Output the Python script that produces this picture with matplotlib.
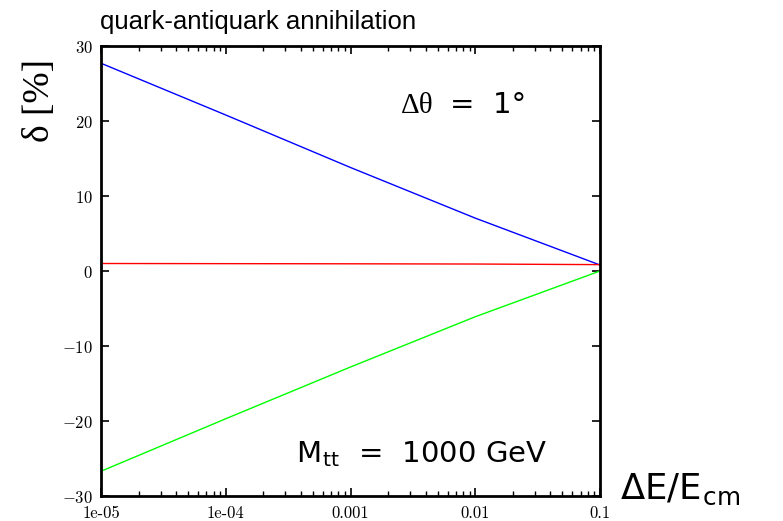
import matplotlib
matplotlib.use("Agg")
import matplotlib.pyplot as plt
from matplotlib.ticker import FixedLocator, FixedFormatter, LogLocator, NullFormatter

plt.rcParams['mathtext.fontset'] = 'cm'

x_vals = [1e-5, 1e-4, 1e-3, 1e-2, 1e-1]
blue_vals = [27.7, 20.8, 13.8, 7.05, 0.8]
red_vals = [1.0, 0.98, 0.96, 0.93, 0.85]
green_vals = [-26.7, -19.7, -12.8, -6.1, 0.0]

x_ticks = [1e-5, 1e-4, 1e-3, 1e-2, 1e-1]
x_ticklabels = ['1e-05', '1e-04', '0.001', '0.01', '0.1']
y_ticks = [-30, -20, -10, 0, 10, 20, 30]
y_ticklabels = [r'$-30$', r'$-20$', r'$-10$', r'$0$', r'$10$', r'$20$', r'$30$']

W, H = 783, 521
fig = plt.figure(figsize=(W/100, H/100), dpi=100)
ax = fig.add_axes([101/W, 1-496/H, (600-101)/W, (496-46)/H])

ax.plot(x_vals, blue_vals, color='#0000ff', lw=1.0)
ax.plot(x_vals, red_vals, color='#ff0000', lw=1.0)
ax.plot(x_vals, green_vals, color='#00ff00', lw=1.0)

ax.set_xscale('log')
ax.set_xlim(1e-5, 0.1)
ax.set_ylim(-30, 30)

ax.xaxis.set_major_locator(FixedLocator(x_ticks))
ax.xaxis.set_major_formatter(FixedFormatter(x_ticklabels))
ax.xaxis.set_minor_locator(LogLocator(base=10, subs=range(2, 10)))
ax.xaxis.set_minor_formatter(NullFormatter())
ax.yaxis.set_major_locator(FixedLocator(y_ticks))
ax.yaxis.set_major_formatter(FixedFormatter(y_ticklabels))

for lab in ax.get_xticklabels():
    lab.set_fontfamily('cmr10')
    lab.set_fontsize(12)
for lab in ax.get_yticklabels():
    lab.set_fontsize(12)

ax.tick_params(which='major', direction='in', length=6, width=1.2,
               top=True, right=True)
ax.tick_params(axis='x', which='major', pad=7)
ax.tick_params(axis='y', which='major', pad=6)
ax.tick_params(which='minor', direction='in', length=3.5, width=1.0,
               top=True, right=True)
for s in ax.spines.values():
    s.set_linewidth(2)

def fx(px):
    return px / W

def fy(py):
    return 1 - py / H

fig.text(fx(100), fy(29), 'quark-antiquark annihilation', fontsize=18.5,
         family='Liberation Sans', ha='left', va='baseline')
fig.text(fx(401), fy(113), 'Δθ', fontsize=21, family='Liberation Serif',
         ha='left', va='baseline')
fig.text(fx(450), fy(113), '=  1°', fontsize=21, family='DejaVu Sans',
         ha='left', va='baseline')
fig.text(fx(296), fy(462), r'M$_{\mathregular{tt}}$  =  1000 GeV', fontsize=21,
         family='DejaVu Sans', ha='left', va='baseline')
fig.text(fx(620), fy(499), r'ΔE/E$_{\mathregular{cm}}$', fontsize=25.5,
         family='DejaVu Sans', ha='left', va='baseline')
fig.text(fx(40), fy(101), 'δ [%]', fontsize=27, family='Liberation Serif',
         rotation=90, ha='center', va='center')

fig.savefig('out.png', dpi=100)
